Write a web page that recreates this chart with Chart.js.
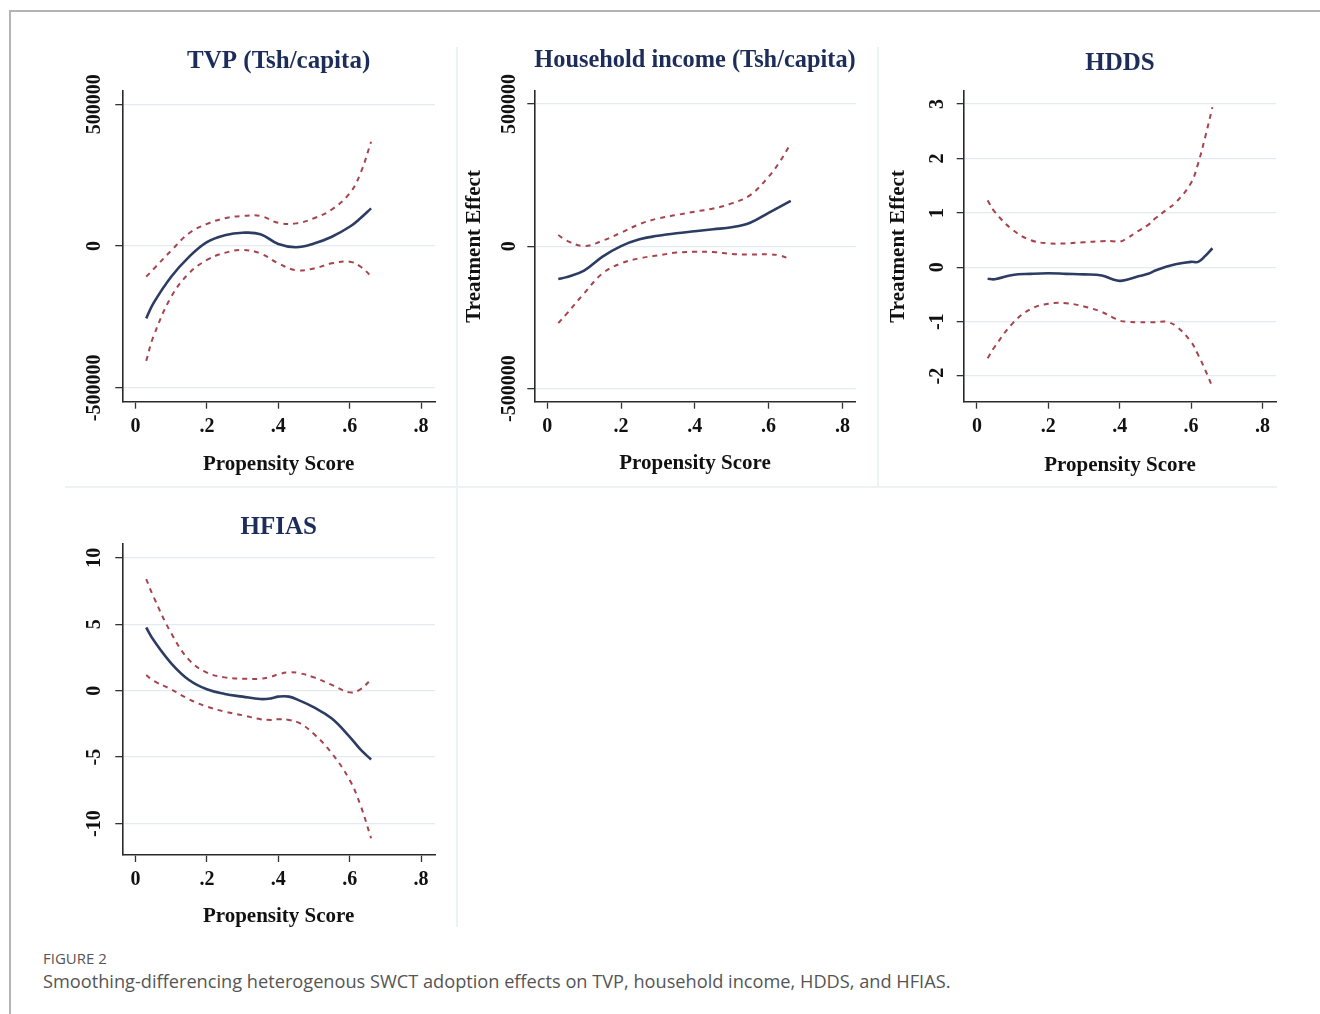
<!DOCTYPE html>
<html>
<head>
<meta charset="utf-8">
<script src="https://cdn.jsdelivr.net/npm/chart.js@4.4.1/dist/chart.umd.min.js"></script>
<style>
  html, body { margin: 0; padding: 0; background: #fff; }
  #page { position: relative; width: 1320px; height: 1014px; overflow: hidden; }
  .frame { position: absolute; left: 9px; top: 10px; width: 1400px; height: 1100px;
           border-left: 2px solid #b4b4b4; border-top: 2px solid #b4b4b4; }
  .sep { position: absolute; background: #edf2f5; }
  .panel { position: absolute; }
  .cap1 { position: absolute; left: 43px; top: 948px; font: 15px "Open Sans", sans-serif; color: #555; }
  .cap2 { position: absolute; left: 43px; top: 969px; font: 18.2px "Open Sans", sans-serif; color: #555; }
</style>
</head>
<body>
<div id="page">
  <div class="frame"></div>
  <div class="sep" style="left:456px; top:47px; width:2px; height:440px;"></div>
  <div class="sep" style="left:877px; top:47px; width:2px; height:440px;"></div>
  <div class="sep" style="left:65px; top:486px; width:1212px; height:2px;"></div>
  <div class="sep" style="left:456px; top:488px; width:2px; height:439px;"></div>

  <div class="panel" style="left:40px; top:20px; width:420px; height:460px;"><canvas id="tvp"></canvas></div>
  <div class="panel" style="left:455px; top:20px; width:420px; height:460px;"><canvas id="income"></canvas></div>
  <div class="panel" style="left:875px; top:20px; width:420px; height:460px;"><canvas id="hdds"></canvas></div>
  <div class="panel" style="left:40px; top:485px; width:420px; height:460px;"><canvas id="hfias"></canvas></div>

  <div class="cap1">FIGURE 2</div>
  <div class="cap2">Smoothing-differencing heterogenous SWCT adoption effects on TVP, household income, HDDS, and HFIAS.</div>
</div>

<script>
// x axis (same for all panels)
const xTicks = [0, 0.2, 0.4, 0.6, 0.8];
const xTickLabels = ['0', '.2', '.4', '.6', '.8'];

// TVP (Tsh/capita)
const tvpScore = [0.03, 0.05, 0.1, 0.15, 0.2, 0.25, 0.3, 0.35, 0.4, 0.45, 0.5, 0.55, 0.6, 0.63, 0.66];
const tvpEffect = [-255000, -202000, -108000, -38000, 14000, 38000, 47000, 42000, 7000, -4000, 9000, 33000, 68000, 98000, 133000];
const tvpUpper = [-108000, -82000, -16000, 45000, 78000, 98000, 106000, 106000, 82000, 80000, 98000, 129000, 186000, 256000, 368000];
const tvpLower = [-405000, -320000, -179000, -96000, -49000, -24000, -14000, -26000, -61000, -85000, -79000, -61000, -55000, -72000, -106000];
const tvpYTicks = [-500000, 0, 500000];
const tvpYLabels = ['-500000', '0', '500000'];

// Household income (Tsh/capita)
const incScore = [0.03, 0.05, 0.1, 0.15, 0.2, 0.25, 0.3, 0.35, 0.4, 0.45, 0.5, 0.55, 0.6, 0.63, 0.66];
const incEffect = [-115000, -109000, -85000, -36000, 1000, 25000, 37000, 46000, 53000, 60000, 67000, 83000, 118000, 139000, 160000];
const incUpper = [40000, 22000, 1000, 20000, 48000, 78000, 98000, 110000, 122000, 133000, 151000, 180000, 245000, 297000, 362000];
const incLower = [-270000, -241000, -165000, -95000, -60000, -42000, -32000, -22000, -19000, -20000, -27000, -29000, -28000, -32000, -46000];
const incYTicks = [-500000, 0, 500000];
const incYLabels = ['-500000', '0', '500000'];

// HDDS
const hddsScore = [0.03, 0.05, 0.1, 0.15, 0.2, 0.25, 0.3, 0.35, 0.38, 0.4, 0.42, 0.45, 0.48, 0.5, 0.53, 0.56, 0.6, 0.62, 0.64, 0.66];
const hddsEffect = [-0.21, -0.22, -0.14, -0.12, -0.11, -0.12, -0.13, -0.15, -0.22, -0.25, -0.23, -0.17, -0.12, -0.06, 0.01, 0.06, 0.10, 0.10, 0.21, 0.35];
const hddsUpper = [1.23, 1.02, 0.69, 0.50, 0.44, 0.44, 0.46, 0.48, 0.48, 0.47, 0.53, 0.66, 0.78, 0.90, 1.05, 1.21, 1.55, 1.91, 2.40, 2.94];
const hddsLower = [-1.67, -1.46, -1.03, -0.77, -0.67, -0.66, -0.72, -0.82, -0.92, -0.98, -1.00, -1.01, -1.01, -1.01, -1.00, -1.09, -1.37, -1.61, -1.89, -2.20];
const hddsYTicks = [-2, -1, 0, 1, 2, 3];
const hddsYLabels = ['-2', '-1', '0', '1', '2', '3'];

// HFIAS
const hfiasScore = [0.03, 0.05, 0.1, 0.15, 0.2, 0.25, 0.3, 0.35, 0.38, 0.4, 0.43, 0.46, 0.5, 0.55, 0.6, 0.63, 0.66];
const hfiasEffect = [4.75, 3.82, 2.06, 0.80, 0.10, -0.25, -0.45, -0.63, -0.58, -0.45, -0.45, -0.75, -1.26, -2.09, -3.47, -4.42, -5.18];
const hfiasUpper = [8.39, 7.09, 4.32, 2.31, 1.36, 1.00, 0.90, 0.90, 1.05, 1.23, 1.38, 1.31, 1.00, 0.43, -0.13, 0.10, 0.85];
const hfiasLower = [1.18, 0.75, 0.10, -0.65, -1.20, -1.58, -1.85, -2.15, -2.20, -2.15, -2.20, -2.45, -3.26, -4.71, -6.72, -8.60, -11.10];
const hfiasYTicks = [-10, -5, 0, 5, 10];
const hfiasYLabels = ['-10', '-5', '0', '5', '10'];

const SERIF = "'Liberation Serif', 'Times New Roman', serif";
const NAVY = '#1c2d5a';
const LINE = '#2d3c62';
const CI = '#a6434d';

// y tick labels are vertical in the original, drawn from the y scale's ticks
const yTickLabelPlugin = {
    id: 'yTickLabels',
    afterDraw(chart, args, opts) {
        const scale = chart.scales.y;
        const ctx = chart.ctx;
        ctx.save();
        ctx.font = 'bold 20px ' + SERIF;
        ctx.fillStyle = '#111';
        ctx.textAlign = 'center';
        ctx.textBaseline = 'middle';
        scale.ticks.forEach((t, i) => {
            ctx.save();
            ctx.translate(chart.chartArea.left - opts.offset, scale.getPixelForValue(t.value));
            ctx.rotate(-Math.PI / 2);
            ctx.fillText(opts.labels[i], 0, 0);
            ctx.restore();
        });
        ctx.restore();
    }
};

const pts = (xs, ys) => xs.map((x, i) => ({ x: x, y: ys[i] }));

function makePanel(id, p) {
    new Chart(document.getElementById(id), {
        type: 'scatter',
        data: {
            datasets: [
                { data: pts(p.score, p.upper), borderColor: CI, borderWidth: 2, borderDash: [5, 5] },
                { data: pts(p.score, p.lower), borderColor: CI, borderWidth: 2, borderDash: [5, 5] },
                { data: pts(p.score, p.effect), borderColor: LINE, borderWidth: 2.6 }
            ].map(d => ({ ...d, showLine: true, pointRadius: 0, tension: 0.4, fill: false }))
        },
        options: {
            responsive: true,
            maintainAspectRatio: false,
            animation: false,
            layout: { padding: { top: 0, left: 0, right: p.padRight, bottom: p.padBottom } },
            plugins: {
                legend: { display: false },
                tooltip: { enabled: false },
                title: {
                    display: true,
                    text: p.title,
                    fullSize: false,
                    color: NAVY,
                    font: { family: SERIF, size: p.titleSize, weight: 'bold', lineHeight: 1.2 },
                    padding: { top: p.titleTop, bottom: p.titleBottom }
                },
                yTickLabels: { labels: p.yLabels, offset: p.labelOffset }
            },
            scales: {
                x: {
                    type: 'linear',
                    min: p.xMin, max: p.xMax,
                    afterBuildTicks: s => { s.ticks = xTicks.map(v => ({ value: v })); },
                    afterFit: s => { s.height = p.xHeight; },
                    ticks: {
                        callback: (v, i) => xTickLabels[i],
                        autoSkip: false, maxRotation: 0, padding: 6,
                        color: '#111',
                        font: { family: SERIF, size: 20, weight: 'bold' }
                    },
                    grid: { drawOnChartArea: false, tickLength: 7, tickColor: '#333', tickWidth: 1.3 },
                    border: { color: '#2a2a2a', width: 1.6 },
                    title: {
                        display: true, text: 'Propensity Score', color: '#111', padding: 0,
                        font: { family: SERIF, size: 21, weight: 'bold', lineHeight: 1.2 }
                    }
                },
                y: {
                    type: 'linear',
                    min: p.yMin, max: p.yMax,
                    afterBuildTicks: s => { s.ticks = p.yTicks.map(v => ({ value: v })); },
                    afterFit: s => { s.width = p.yWidth; },
                    ticks: { display: false },
                    grid: { color: '#e1ebf1', lineWidth: 1.3, tickLength: 7, tickColor: '#333', tickWidth: 1.3 },
                    border: { color: '#2a2a2a', width: 1.6 },
                    title: {
                        display: p.yTitle, text: 'Treatment Effect', color: '#111',
                        padding: { top: p.yTitlePad, bottom: 0 },
                        font: { family: SERIF, size: 21, weight: 'bold', lineHeight: 1.2 }
                    }
                }
            }
        },
        plugins: [yTickLabelPlugin]
    });
}

makePanel('tvp', {
    title: 'TVP (Tsh/capita)', titleSize: 25, score: tvpScore, effect: tvpEffect, upper: tvpUpper, lower: tvpLower,
    yTicks: tvpYTicks, yLabels: tvpYLabels, yMin: -549000, yMax: 548000, xMin: -0.037, xMax: 0.839,
    yWidth: 82.3, xHeight: 75.9, padRight: 25, padBottom: 2.4, titleTop: 27, titleBottom: 13.7,
    yTitle: false, yTitlePad: 0, labelOffset: 27
});

makePanel('income', {
    title: 'Household income (Tsh/capita)', titleSize: 26, score: incScore, effect: incEffect, upper: incUpper, lower: incLower,
    yTicks: incYTicks, yLabels: incYLabels, yMin: -546000, yMax: 546000, xMin: -0.035, xMax: 0.836,
    yWidth: 79.3, xHeight: 74.9, padRight: 19.3, padBottom: 3.4, titleTop: 24.4, titleBottom: 15.4,
    yTitle: true, yTitlePad: 7.4, labelOffset: 24
});

makePanel('hdds', {
    title: 'HDDS', titleSize: 25, score: hddsScore, effect: hddsEffect, upper: hddsUpper, lower: hddsLower,
    yTicks: hddsYTicks, yLabels: hddsYLabels, yMin: -2.47, yMax: 3.24, xMin: -0.037, xMax: 0.839,
    yWidth: 88.7, xHeight: 76.9, padRight: 18.7, padBottom: 1.4, titleTop: 29, titleBottom: 12,
    yTitle: true, yTitlePad: 11.4, labelOffset: 26
});

makePanel('hfias', {
    title: 'HFIAS', titleSize: 25, score: hfiasScore, effect: hfiasEffect, upper: hfiasUpper, lower: hfiasLower,
    yTicks: hfiasYTicks, yLabels: hfiasYLabels, yMin: -12.36, yMax: 11.03, xMin: -0.037, xMax: 0.839,
    yWidth: 82.3, xHeight: 74.6, padRight: 25, padBottom: 15.4, titleTop: 28, titleBottom: 1,
    yTitle: false, yTitlePad: 0, labelOffset: 27
});
</script>
</body>
</html>
